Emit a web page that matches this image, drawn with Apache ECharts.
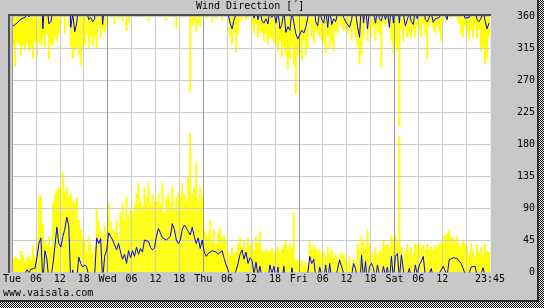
<!DOCTYPE html>
<html>
<head>
<meta charset="utf-8">
<script src="https://cdn.jsdelivr.net/npm/echarts@6/dist/echarts.min.js"></script>
<style>
html,body{margin:0;padding:0;background:#fff;}
#c{width:544px;height:308px;}
</style>
</head>
<body>
<div id="c"></div>
<script>
// ---- data (30-minute slots, Tue 00:00 .. Sat 23:45) ----
const titleText = 'Wind Direction [\u00b4]';
const footerText = 'www.vaisala.com';
const xTickLabels = ['Tue','06','12','18','Wed','06','12','18','Thu','06','12','18','Fri','06','12','18','Sat','06','12','','23:45'];
const slotHours = 0.5;

// upper end of the band that touches 0 deg (0 = none)
const lowMax = [
  18,22,20,16,30,24,14,20,24,18,37,22,
  50,104,108,68,45,38,50,36,97,110,115,120,
  118,140,112,120,106,110,100,97,105,73,60,50,
  45,30,50,40,26,35,90,73,60,50,65,55,
  97,70,60,55,73,50,85,97,75,106,80,90,
  85,95,110,125,100,92,118,105,125,95,110,100,
  100,110,95,125,83,105,110,98,120,90,105,112,
  105,125,110,100,136,195,110,118,154,100,120,108,
  60,50,55,73,45,60,40,55,62,48,52,45,
  30,22,35,25,28,40,50,35,45,31,48,38,
  45,31,50,40,57,31,28,33,26,30,33,28,
  30,36,26,33,38,45,31,40,35,84,17,17,
  12,17,8,15,10,43,31,38,35,31,30,25,
  30,22,35,25,31,20,26,17,22,28,25,20,
  15,22,8,18,12,40,31,50,45,35,59,40,
  30,22,35,25,28,31,45,38,40,35,52,45,
  52,45,192,35,22,30,40,28,35,25,40,38,
  40,35,38,31,40,33,36,31,38,35,40,42,
  52,50,55,59,50,48,45,50,40,36,45,40,
  35,25,40,30,22,38,28,35,25,40,30,28
];
// lower end of the band that touches 360 deg (360 = none)
const highMin = [
  318,289,322,320,304,318,312,322,310,316,300,325,
  304,322,318,330,316,335,299,320,318,330,325,335,
  349,360,335,360,345,316,300,310,316,305,290,312,
  320,335,313,328,318,330,313,344,330,340,336,344,
  360,358,360,349,360,355,360,353,360,339,350,360,
  360,360,360,360,360,360,360,360,353,360,360,360,
  360,360,360,360,360,353,360,360,360,360,342,360,
  360,360,360,360,360,253,345,353,337,350,345,360,
  360,356,360,360,351,360,356,360,360,353,360,360,
  349,330,320,340,309,335,351,356,360,353,356,360,
  345,335,349,330,340,336,325,335,320,330,328,322,
  320,310,325,302,316,305,285,300,316,290,250,305,
  310,297,325,305,315,349,330,321,340,335,330,325,
  320,307,332,315,325,310,340,335,349,345,338,342,
  335,344,325,340,330,316,292,305,330,349,325,340,
  330,345,325,340,335,288,350,345,351,341,325,307,
  320,310,204,340,325,344,330,335,328,340,330,345,
  340,330,349,335,300,345,351,340,335,346,340,325,
  351,356,353,360,356,360,360,355,349,335,330,345,
  335,325,340,330,345,328,340,310,316,292,300,330
];
// average direction
const avgDir = [
  346,348,350,353,356,354,358,3,359,4,2,5,
  20,40,48,342,30,18,349,352,10,35,63,40,
  35,50,60,77,65,344,3,338,350,21,12,7,
  10,7,355,358,352,356,48,40,47,348,22,30,
  55,50,45,38,31,40,28,18,25,12,30,20,
  30,22,35,25,33,28,45,47,43,35,31,34,
  50,61,55,48,50,45,47,50,68,60,45,40,
  45,60,66,62,57,52,63,50,40,48,33,45,
  28,22,26,24,30,31,28,25,24,30,19,10,
  3,350,342,355,2,12,25,31,18,28,12,20,
  17,357,14,355,8,353,350,356,349,10,358,8,
  350,7,342,348,8,337,345,340,6,8,335,328,
  330,340,336,344,358,22,12,18,352,346,7,355,
  350,10,344,12,348,356,352,350,17,15,358,352,
  350,344,355,12,5,345,330,24,350,15,342,8,
  12,5,350,10,356,353,8,355,7,344,22,350,
  22,26,350,24,3,346,355,5,352,348,10,356,
  10,15,22,355,352,358,5,351,356,354,358,357,
  8,10,355,17,19,20,18,19,20,12,5,357,
  356,358,7,5,8,355,352,357,6,8,342,350
];

// ---- build series data ----
const lowBand = lowMax.map((v, i) => [i * slotHours, 0, v]);
const highBand = highMin.map((v, i) => [i * slotHours, v, 360]);
// wrap the average: upper copy and lower copy, clipped by the grid
const avgUpper = avgDir.map((v, i) => [i * slotHours + slotHours / 2, v > 180 ? v : v + 360]);
const avgLower = avgDir.map((v, i) => [i * slotHours + slotHours / 2, v > 180 ? v - 360 : v]);

function bandItem(params, api) {
  const t = api.value(0), lo = api.value(1), hi = api.value(2);
  if (hi <= lo) return null;
  const p0 = api.coord([t, hi]);
  const p1 = api.coord([t + slotHours, lo]);
  return {
    type: 'rect',
    shape: { x: p0[0], y: p0[1], width: p1[0] - p0[0], height: p1[1] - p0[1] },
    style: { fill: '#ffff00' }
  };
}

// checker pattern for the drop shadow
const pat = document.createElement('canvas');
pat.width = 2; pat.height = 2;
const pctx = pat.getContext('2d');
pctx.fillStyle = '#ffffff'; pctx.fillRect(0, 0, 2, 2);
pctx.fillStyle = '#000000'; pctx.fillRect(0, 0, 1, 1); pctx.fillRect(1, 1, 1, 1);

const FONT = 'DejaVu Sans Mono';
const chart = echarts.init(document.getElementById('c'), null, { renderer: 'canvas' });
chart.setOption({
  animation: false,
  backgroundColor: '#c8c8c8',
  textStyle: { fontFamily: FONT },
  grid: { left: 10, right: 54, top: 16, bottom: 36, show: true, backgroundColor: '#ffffff', borderWidth: 0 },
  xAxis: {
    type: 'value', min: 0, max: 120, interval: 6, z: 3,
    axisLine: { show: false }, axisTick: { show: false },
    splitLine: { show: true, lineStyle: { width: 1, color: ['#999999', '#cccccc', '#cccccc', '#cccccc'] } },
    axisLabel: {
      margin: 2, color: '#000', fontFamily: FONT, fontSize: 10,
      showMinLabel: true, showMaxLabel: true,
      formatter: v => xTickLabels[Math.round(v / 6)]
    }
  },
  yAxis: {
    type: 'value', position: 'right', min: 0, max: 360, interval: 45, z: 3,
    axisLine: { show: false }, axisTick: { show: false },
    splitLine: { show: true, lineStyle: { width: 1, color: '#cccccc' } },
    axisLabel: { align: 'right', margin: 45, color: '#000', fontFamily: FONT, fontSize: 10 }
  },
  series: [
    { type: 'custom', renderItem: bandItem, data: lowBand, encode: { x: 0, y: [1, 2] }, z: 2, clip: true },
    { type: 'custom', renderItem: bandItem, data: highBand, encode: { x: 0, y: [1, 2] }, z: 2, clip: true },
    { type: 'line', data: avgUpper, showSymbol: false, clip: true, z: 5,
      lineStyle: { color: '#0000ff', width: 1 } },
    { type: 'line', data: avgLower, showSymbol: false, clip: true, z: 5,
      lineStyle: { color: '#0000ff', width: 1 } }
  ],
  graphic: [
    { type: 'rect', shape: { x: 537, y: 0, width: 2, height: 302 }, style: { fill: '#303030' }, z: 10 },
    { type: 'rect', shape: { x: 0, y: 300, width: 539, height: 2 }, style: { fill: '#303030' }, z: 10 },
    { type: 'rect', shape: { x: 539, y: 0, width: 5, height: 308 }, style: { fill: { image: pat, repeat: 'repeat' } }, z: 10 },
    { type: 'rect', shape: { x: 0, y: 302, width: 544, height: 6 }, style: { fill: { image: pat, repeat: 'repeat' } }, z: 10 },
    { type: 'rect', shape: { x: 8, y: 14, width: 483, height: 2 }, style: { fill: '#505050' }, z: 10 },
    { type: 'rect', shape: { x: 8, y: 14, width: 2, height: 259 }, style: { fill: '#505050' }, z: 10 },
    { type: 'rect', shape: { x: 490, y: 16, width: 1, height: 257 }, style: { fill: '#eeeeee' }, z: 10 },
    { type: 'text', left: 196, top: 1, z: 10,
      style: { text: titleText, fill: '#000', font: '10px "' + FONT + '"' } },
    { type: 'text', left: 3, top: 288, z: 10,
      style: { text: footerText, fill: '#000', font: '10px "' + FONT + '"' } }
  ]
});
</script>
</body>
</html>
